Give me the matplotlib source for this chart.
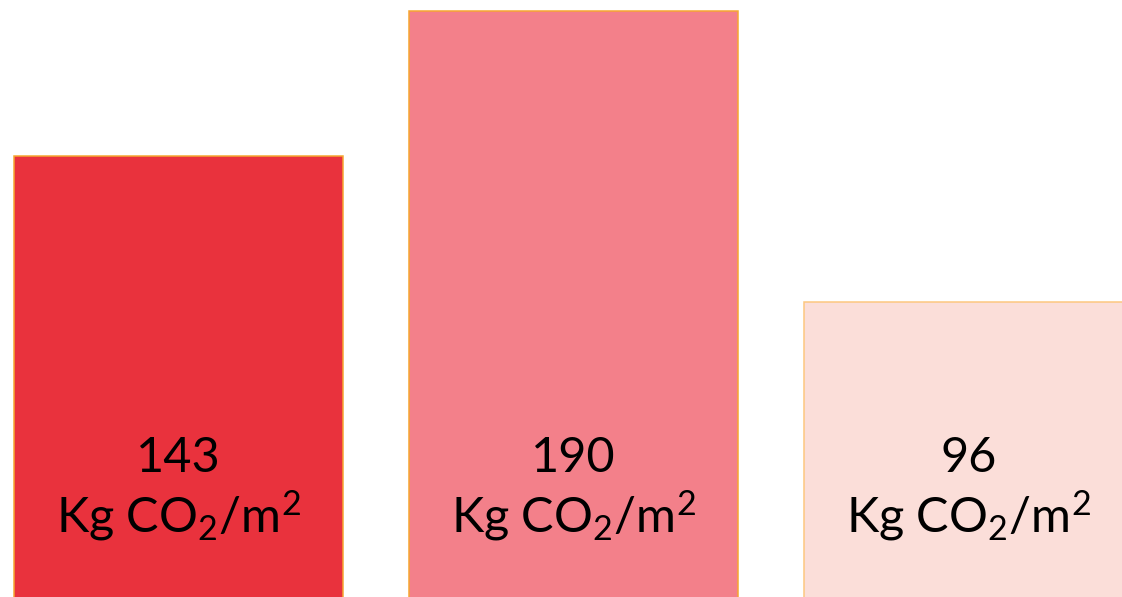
import matplotlib
matplotlib.use("Agg")
import matplotlib.pyplot as plt
from matplotlib.transforms import blended_transform_factory

plt.rcParams["font.family"] = ["Lato", "DejaVu Sans"]
plt.rcParams["mathtext.fontset"] = "custom"
plt.rcParams["mathtext.rm"] = "Lato"
plt.rcParams["mathtext.it"] = "Lato"
plt.rcParams["mathtext.bf"] = "Lato:bold"

# Embodied carbon per square metre for three options
positions = [0, 1, 2]
values = [143, 190, 96]
unit = "Kg CO$_2$/m$^2$"
bar_colors = ["#E9323D", "#F3808A", "#FBDED9"]
edge_colors = ["#F6A731", "#F6A731", "#FDC780"]

fig = plt.figure(figsize=(11.22, 5.97), dpi=100)
ax = fig.add_axes([0, 0, 1, 1])

ax.bar(positions, values, width=0.831, color=bar_colors,
       edgecolor=edge_colors, linewidth=1.1)

# bars run off the bottom edge of the figure
ax.set_xlim(-0.452, 2.389)
ax.set_ylim(0.5, 193.6)
ax.axis("off")

trans = blended_transform_factory(ax.transData, ax.transAxes)
for x, v in zip(positions, values):
    ax.text(x, 0.209, f"{v}", transform=trans, ha="center", va="baseline",
            fontsize=35, color="#000000")
    ax.text(x, 0.109, unit, transform=trans, ha="center", va="baseline",
            fontsize=35, color="#000000")

fig.savefig("out.png", dpi=100)
